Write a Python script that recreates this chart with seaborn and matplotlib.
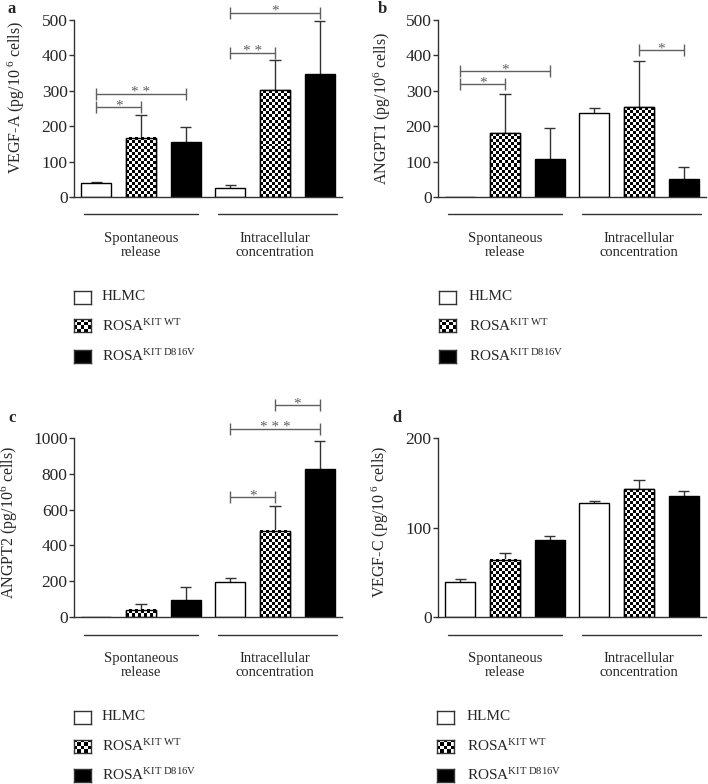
import numpy as np
import pandas as pd
import matplotlib
matplotlib.use('Agg')
import matplotlib.pyplot as plt
from matplotlib.patches import Rectangle
import seaborn as sns

sns.set_style('ticks')
plt.rcParams['font.family'] = ['Liberation Serif', 'DejaVu Serif']
plt.rcParams['mathtext.fontset'] = 'custom'
plt.rcParams['mathtext.rm'] = 'Liberation Serif'
plt.rcParams['mathtext.it'] = 'Liberation Serif:italic'

# ---------------------------------------------------------------- data
conditions = ['HLMC', 'ROSA KIT WT', 'ROSA KIT D816V']
groups = ['Spontaneous\nrelease', 'Intracellular\nconcentration']
legend_labels = ['HLMC', r'ROSA$^{\mathrm{KIT\ WT}}$', r'ROSA$^{\mathrm{KIT\ D816V}}$']

# order: spontaneous (HLMC, WT, D816V), intracellular (HLMC, WT, D816V)
vegfa_mean = [40, 168, 154, 26, 302, 347]
vegfa_top = [42, 231, 197, 35, 386, 498]
angpt1_mean = [0, 180, 106, 238, 254, 50]
angpt1_top = [np.nan, 291, 195, 252, 385, 85]
angpt2_mean = [0, 41, 97, 197, 482, 829]
angpt2_top = [np.nan, 74, 166, 218, 620, 985]
vegfc_mean = [39, 64, 86, 127, 143, 135]
vegfc_top = [42.7, 71, 90, 129.6, 153.6, 141]

# significance brackets: (bar i, bar j, height, stars)
vegfa_sig = [(0, 1, 253, '*'), (0, 2, 291, '* *'), (3, 4, 408, '* *'), (3, 5, 521, '*')]
angpt1_sig = [(0, 1, 318, '*'), (0, 2, 356, '*'), (4, 5, 414, '*')]
angpt2_sig = [(3, 4, 668, '*'), (3, 5, 1050, '* * *'), (4, 5, 1182, '*')]
vegfc_sig = []

vegfa_ticks = [0, 100, 200, 300, 400, 500]
angpt1_ticks = [0, 100, 200, 300, 400, 500]
angpt2_ticks = [0, 200, 400, 600, 800, 1000]
vegfc_ticks = [0, 100, 200]

W, H = 708, 784
fig = plt.figure(figsize=(W / 100, H / 100), dpi=100)
fig.patch.set_facecolor('white')

colors = {'HLMC': 'white', 'ROSA KIT WT': 'white', 'ROSA KIT D816V': 'black'}


def checker(ny, nx):
    return np.add.outer(np.arange(ny), np.arange(nx)) % 2


def fill_checker(ax, patch, cell=3.0):
    x0, y0 = patch.get_x(), patch.get_y()
    x1, y1 = x0 + patch.get_width(), y0 + patch.get_height()
    (px0, py0), (px1, py1) = ax.transData.transform([[x0, y0], [x1, y1]])
    nx = max(1, int(round((px1 - px0) / cell)))
    ny = max(1, int(round((py1 - py0) / cell)))
    ax.imshow(checker(ny, nx), cmap='gray', vmin=0, vmax=1, extent=(x0, x1, y0, y1),
              origin='lower', aspect='auto', interpolation='nearest', zorder=2.1)
    ax.add_patch(Rectangle((x0, y0), x1 - x0, y1 - y0, fill=False, ec='black', lw=1, zorder=2.2))


def draw_panel(rect_px, letter, ylabel, means, tops, sig, ticks, label_xy, legend_px):
    left, top, right, bottom = rect_px
    ax = fig.add_axes([left / W, 1 - bottom / H, (right - left) / W, (bottom - top) / H])
    df = pd.DataFrame({'pos': [str(i) for i in range(6)],
                       'cond': conditions * 2,
                       'value': means})
    sns.barplot(data=df, x='pos', y='value', hue='cond', palette=colors, dodge=False,
                width=0.67, edgecolor='black', linewidth=1, legend=False, ax=ax, zorder=2)
    ax.set_xlim(-0.5, 5.5)
    ax.set_ylim(ticks[0], ticks[-1])
    ax.set_yticks(ticks)
    ax.set_xticks([])
    ax.set_xlabel('')
    ax.set_ylabel(ylabel, fontsize=11.5)
    ax.yaxis.set_label_coords(*label_xy)
    ax.tick_params(axis='y', labelsize=12.5, length=3.5, width=1, color='#333', pad=1)
    sns.despine(ax=ax)
    for s in ['left', 'bottom']:
        ax.spines[s].set_color('#333')
        ax.spines[s].set_linewidth(1)

    # checkerboard fill for the ROSA KIT WT bars
    for p in list(ax.patches):
        idx = int(round(p.get_x() + p.get_width() / 2))
        if conditions[idx % 3] == 'ROSA KIT WT' and p.get_height() > 0:
            fill_checker(ax, p)
    ax.set_xlim(-0.5, 5.5)
    ax.set_ylim(ticks[0], ticks[-1])

    # upper error bars
    xs = np.arange(6)
    m = np.array(means, dtype=float)
    t = np.array(tops, dtype=float)
    ok = ~np.isnan(t)
    ax.vlines(xs[ok], m[ok], t[ok], color='#333', lw=1, zorder=1.5)
    ax.hlines(t[ok], xs[ok] - 0.125, xs[ok] + 0.125, color='#333', lw=1, zorder=1.5)

    # significance brackets
    for i, j, y, lab in sig:
        ax.plot([i, j], [y, y], color='#606060', lw=1, marker='|', markersize=8,
                markeredgewidth=1, clip_on=False)
        ax.annotate(lab, ((i + j) / 2, y), xytext=(0, -1.5), textcoords='offset points',
                    ha='center', va='baseline', fontsize=11, color='#606060',
                    annotation_clip=False)

    # group lines and labels under the axis
    tr = ax.get_xaxis_transform()
    for (a, b), c, g in zip([(-0.28, 2.28), (2.72, 5.38)], [1, 4], groups):
        ax.plot([a, b], [-0.098, -0.098], color='#333', lw=1, transform=tr, clip_on=False)
        ax.text(c, -0.195, g, transform=tr, ha='center', va='top', fontsize=10.5,
                linespacing=1.15)

    fig.text(letter[1] / W, 1 - letter[2] / H, letter[0], fontsize=12, fontweight='bold',
             ha='left', va='center')

    # legend
    bx, tx, ys = legend_px
    for k, (cond, lab) in enumerate(zip(conditions, legend_labels)):
        lax = fig.add_axes([bx / W, 1 - (ys[k] + 6.5) / H, 17 / W, 13 / H])
        if cond == 'ROSA KIT WT':
            lax.imshow(checker(4, 5), cmap='gray', vmin=0, vmax=1, aspect='auto',
                       interpolation='nearest')
        else:
            lax.set_facecolor(colors[cond])
        lax.set_xticks([])
        lax.set_yticks([])
        for s in lax.spines.values():
            s.set_color('#333')
            s.set_linewidth(1)
        fig.text(tx / W, 1 - ys[k] / H, lab, fontsize=11, ha='left', va='center')
    return ax


draw_panel((74, 20, 342, 197), ('a', 8, 9), r'VEGF-A (pg/10$^{\ \mathrm{6}}$ cells)',
           vegfa_mean, vegfa_top, vegfa_sig, vegfa_ticks, (-0.175, 0.56),
           (74, 102, [297, 326, 356]))
draw_panel((438, 20, 706, 197), ('b', 378, 9), r'ANGPT1 (pg/10$^{\mathrm{6}}$ cells)',
           angpt1_mean, angpt1_top, angpt1_sig, angpt1_ticks, (-0.168, 0.5),
           (439, 469, [297, 326, 356]))
draw_panel((74, 438, 342, 617), ('c', 8, 418), r'ANGPT2 (pg/10$^{\mathrm{6}}$ cells)',
           angpt2_mean, angpt2_top, angpt2_sig, angpt2_ticks, (-0.2, 0.53),
           (74, 102, [717, 746, 775]))
draw_panel((438, 438, 706, 617), ('d', 392, 418), r'VEGF-C (pg/10$^{\ \mathrm{6}}$ cells)',
           vegfc_mean, vegfc_top, vegfc_sig, vegfc_ticks, (-0.175, 0.53),
           (437, 467, [717, 746, 775]))

fig.savefig('out.png', dpi=100, facecolor='white')
